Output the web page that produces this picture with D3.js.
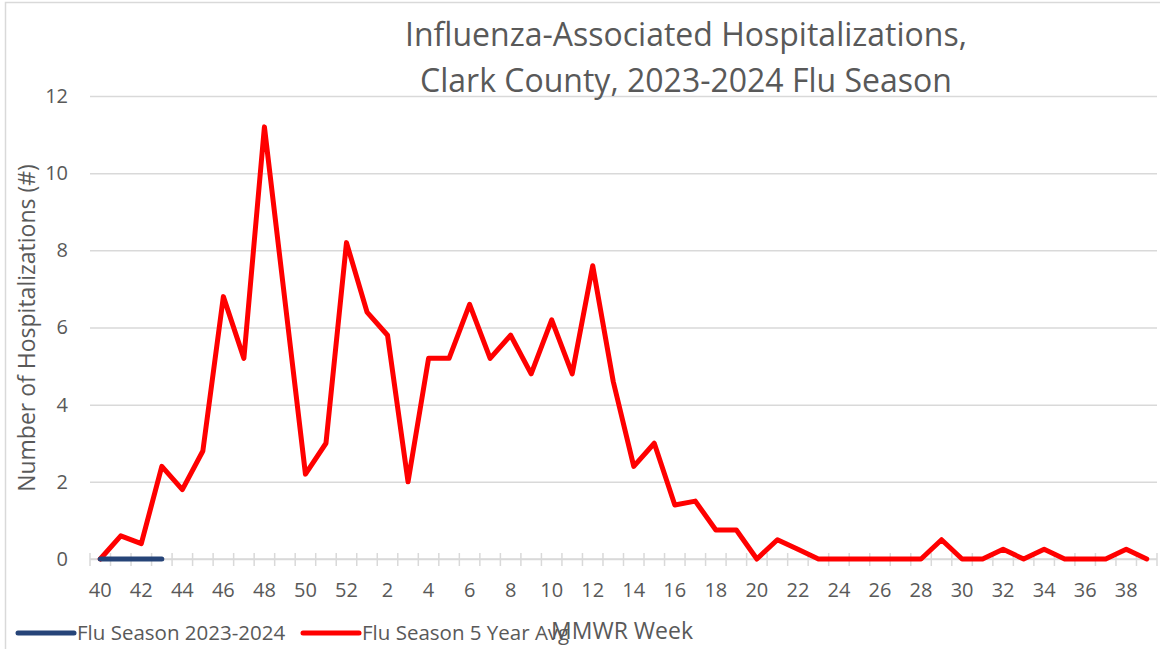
<!DOCTYPE html>
<html>
<head>
<meta charset="utf-8">
<script src="https://cdn.jsdelivr.net/npm/d3@7"></script>
<style>
  body { margin: 0; background: #fff; }
  svg text { font-family: "Open Sans", Lato, sans-serif; fill: #595959; }
</style>
</head>
<body>
<svg id="chart" width="1160" height="649"></svg>
<script>
// MMWR weeks of the season, 40..52 then 1..39
var weeks = [40, 41, 42, 43, 44, 45, 46, 47, 48, 49, 50, 51, 52,
    1, 2, 3, 4, 5, 6, 7, 8, 9, 10, 11, 12, 13, 14, 15, 16, 17, 18, 19, 20,
    21, 22, 23, 24, 25, 26, 27, 28, 29, 30, 31, 32, 33, 34, 35, 36, 37, 38, 39];

// current season (only the first weeks reported so far)
var season2324 = [0, 0, 0, 0];

// five year average
var fiveYearAvg = [0, 0.6, 0.4, 2.4, 1.8, 2.8, 6.8, 5.2, 11.2, 6.7, 2.2, 3, 8.2,
    6.4, 5.8, 2, 5.2, 5.2, 6.6, 5.2, 5.8, 4.8, 6.2, 4.8, 7.6, 4.6, 2.4, 3, 1.4, 1.5, 0.75, 0.75, 0,
    0.5, 0.25, 0, 0, 0, 0, 0, 0, 0.5, 0, 0, 0.25, 0, 0.25, 0, 0, 0, 0.25, 0];

var yTicks = [0, 2, 4, 6, 8, 10, 12];

var series = [
    { name: "Flu Season 2023-2024", values: season2324, color: "#264478" },
    { name: "Flu Season 5 Year Avg", values: fiveYearAvg, color: "#ff0000" }
];

var svg = d3.select("#chart");

// outer chart frame (cut off at right and bottom like the source)
svg.append("rect")
    .attr("x", 5.5).attr("y", 2.5)
    .attr("width", 1300).attr("height", 800)
    .attr("fill", "none")
    .attr("stroke", "#d9d9d9")
    .attr("stroke-width", 1.5);

var x = d3.scaleBand()
    .domain(d3.range(weeks.length))
    .range([90, 1157]);

var y = d3.scaleLinear()
    .domain([0, 12])
    .range([559, 96]);

// gridlines + y labels
svg.append("g")
    .attr("transform", "translate(90,0)")
    .call(d3.axisLeft(y).tickValues(yTicks).tickSize(-1067).tickPadding(22))
    .call(function (g) { g.select(".domain").remove(); })
    .call(function (g) {
        g.selectAll(".tick line").attr("stroke", "#d9d9d9").attr("stroke-width", 1.5);
        g.selectAll(".tick text").attr("font-size", 20).attr("fill", "#595959");
    });

// x axis: ticks between categories, labels on every other week
var xAxis = svg.append("g").attr("transform", "translate(0,559)");
xAxis.append("line")
    .attr("x1", 90).attr("x2", 1157)
    .attr("stroke", "#d9d9d9").attr("stroke-width", 1.5);
xAxis.selectAll(".tk")
    .data(d3.range(weeks.length + 1))
    .enter().append("line")
    .attr("x1", function (i) { return i < weeks.length ? x(i) : x.range()[1]; })
    .attr("x2", function (i) { return i < weeks.length ? x(i) : x.range()[1]; })
    .attr("y1", -6).attr("y2", 7)
    .attr("stroke", "#d9d9d9").attr("stroke-width", 1.5);
xAxis.selectAll(".lbl")
    .data(d3.range(0, weeks.length, 2))
    .enter().append("text")
    .attr("x", function (i) { return x(i) + x.bandwidth() / 2; })
    .attr("y", 38)
    .attr("text-anchor", "middle")
    .attr("font-size", 20)
    .text(function (i) { return weeks[i]; });

// lines
var line = d3.line()
    .x(function (d, i) { return x(i) + x.bandwidth() / 2; })
    .y(function (d) { return y(d); });

svg.selectAll(".series")
    .data(series.slice().reverse())
    .enter().append("path")
    .attr("d", function (s) { return line(s.values); })
    .attr("fill", "none")
    .attr("stroke", function (s) { return s.color; })
    .attr("stroke-width", 5)
    .attr("stroke-linejoin", "round")
    .attr("stroke-linecap", "round");

// title
var title = svg.append("text")
    .attr("text-anchor", "middle")
    .attr("font-size", 32);
title.append("tspan").attr("x", 686).attr("y", 46).text("Influenza-Associated Hospitalizations,");
title.append("tspan").attr("x", 686).attr("y", 92).text("Clark County, 2023-2024 Flu Season");

// axis titles
svg.append("text")
    .attr("transform", "translate(35,328) rotate(-90)")
    .attr("text-anchor", "middle")
    .attr("font-size", 23)
    .text("Number of Hospitalizations (#)");

svg.append("text")
    .attr("x", 622).attr("y", 639)
    .attr("text-anchor", "middle")
    .attr("font-size", 23)
    .text("MMWR Week");

// legend
var legendX = [18, 303];
var legend = svg.selectAll(".legend")
    .data(series)
    .enter().append("g")
    .attr("transform", function (s, i) { return "translate(" + legendX[i] + ",633)"; });
legend.append("line")
    .attr("x1", 0).attr("x2", 56)
    .attr("stroke", function (s) { return s.color; })
    .attr("stroke-width", 5)
    .attr("stroke-linecap", "round");
legend.append("text")
    .attr("x", 59).attr("y", 7)
    .attr("font-size", 20.5)
    .text(function (s) { return s.name; });
</script>
</body>
</html>
